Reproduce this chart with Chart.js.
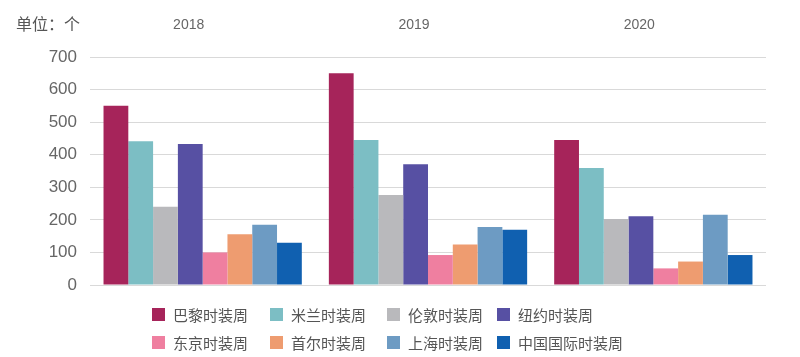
<!DOCTYPE html>
<html><head><meta charset="utf-8">
<script src="https://cdn.jsdelivr.net/npm/chart.js@4/dist/chart.umd.min.js"></script>
<style>
html,body{margin:0;padding:0;background:#fff;}
#wrap{position:relative;width:800px;height:357px;overflow:hidden;font-family:"Noto Sans CJK SC","Liberation Sans",sans-serif;}
#unit{position:absolute;left:16px;top:12px;font-size:16px;color:#555;line-height:22px;}
#legend{position:absolute;left:152px;top:304px;display:grid;grid-template-columns:118px 117px 110px auto;row-gap:7px;}
.li{display:flex;align-items:center;height:21px;font-size:15px;color:#555;white-space:nowrap;}
.li i{display:inline-block;width:13px;height:13px;margin-right:8px;}
</style></head>
<body><div id="wrap">
<canvas id="c" width="800" height="357"></canvas>
<div id="unit">单位：个</div>
<div id="legend"></div>
</div>
<script>
const years = ['2018', '2019', '2020'];
const weekNames = ['巴黎时装周','米兰时装周','伦敦时装周','纽约时装周','东京时装周','首尔时装周','上海时装周','中国国际时装周'];
const paris    = [550, 650, 445];
const milan    = [441, 445, 359];
const london   = [240, 276, 203];
const newyork  = [433, 371, 211];
const tokyo    = [100, 92, 51];
const seoul    = [156, 124, 72];
const shanghai = [185, 178, 216];
const chinaIntl= [130, 170, 92];
const yTicks = [0, 100, 200, 300, 400, 500, 600, 700];
const unitLabel = '单位：个';

const seriesValues = [paris, milan, london, newyork, tokyo, seoul, shanghai, chinaIntl];
const colors = ['#A6245A','#7CBEC4','#B9B9BC','#5750A3','#EF7FA0','#EE9C70','#6D9BC3','#1060B0'];

document.getElementById('unit').textContent = unitLabel;

const datasets = weekNames.map((n, i) => ({
  label: n,
  data: seriesValues[i],
  backgroundColor: colors[i],
  borderWidth: 0,
  categoryPercentage: 0.88,
  barPercentage: 1.0
}));

new Chart(document.getElementById('c'), {
  type: 'bar',
  data: { labels: years, datasets },
  options: {
    responsive: false,
    animation: false,
    layout: { padding: { left: 0, right: 34, top: 0, bottom: 72 } },
    plugins: { legend: { display: false }, tooltip: { enabled: false } },
    scales: {
      x: {
        position: 'top',
        grid: { display: false, drawTicks: false },
        border: { display: false },
        ticks: { color: '#666', font: { size: 14, family: 'Liberation Sans' }, padding: 23, labelOffset: -14 },
        afterFit: s => { s.height = 57; }
      },
      y: {
        min: 0, max: 700,
        afterBuildTicks: s => { s.ticks = yTicks.map(v => ({ value: v })); },
        grid: { color: '#D9D9D9', lineWidth: 1, drawTicks: false },
        border: { display: false },
        ticks: { color: '#666', font: { size: 17, family: 'Liberation Sans' }, padding: 13 },
        afterFit: s => { s.width = 90; }
      }
    }
  }
});

const lg = document.getElementById('legend');
weekNames.forEach((n, i) => {
  const d = document.createElement('div');
  d.className = 'li';
  const b = document.createElement('i');
  b.style.background = colors[i];
  d.appendChild(b);
  d.appendChild(document.createTextNode(n));
  lg.appendChild(d);
});
</script>
</body></html>
